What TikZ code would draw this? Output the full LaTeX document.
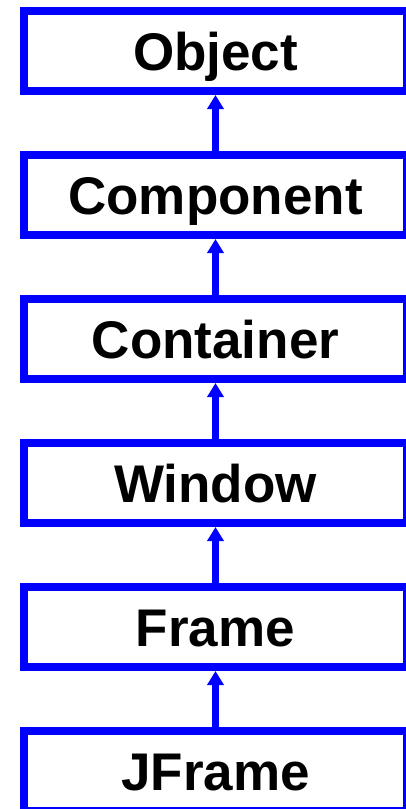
\documentclass[tikz,border=0pt]{standalone}
\usepackage{fontspec}
\setmainfont{Liberation Sans}
\usetikzlibrary{arrows.meta}
\begin{document}
\begin{tikzpicture}[x=1pt,y=-1pt,
  cls/.style={draw=blue,line width=8pt,minimum width=383pt,minimum height=80pt,
    inner sep=0pt,text height=38pt,text depth=0pt,
    font=\fontsize{53}{60}\selectfont\bfseries},
  inh/.style={draw=blue,line width=7pt,-{Triangle[length=14pt,width=16pt]}}]
\clip (0,0) rectangle (406,809);
\fill[white] (0,0) rectangle (406,809);
\node[cls] (obj) at (215.5,51) {Object};
\node[cls] (comp) at (215.5,195) {Component};
\node[cls] (cont) at (215.5,339) {Container};
\node[cls] (win) at (215.5,483) {Window};
\node[cls] (frm) at (215.5,627) {Frame};
\node[cls] (jfrm) at (215.5,771) {JFrame};
\draw[inh] (comp.north) -- (obj.south);
\draw[inh] (cont.north) -- (comp.south);
\draw[inh] (win.north) -- (cont.south);
\draw[inh] (frm.north) -- (win.south);
\draw[inh] (jfrm.north) -- (frm.south);
\end{tikzpicture}
\end{document}
